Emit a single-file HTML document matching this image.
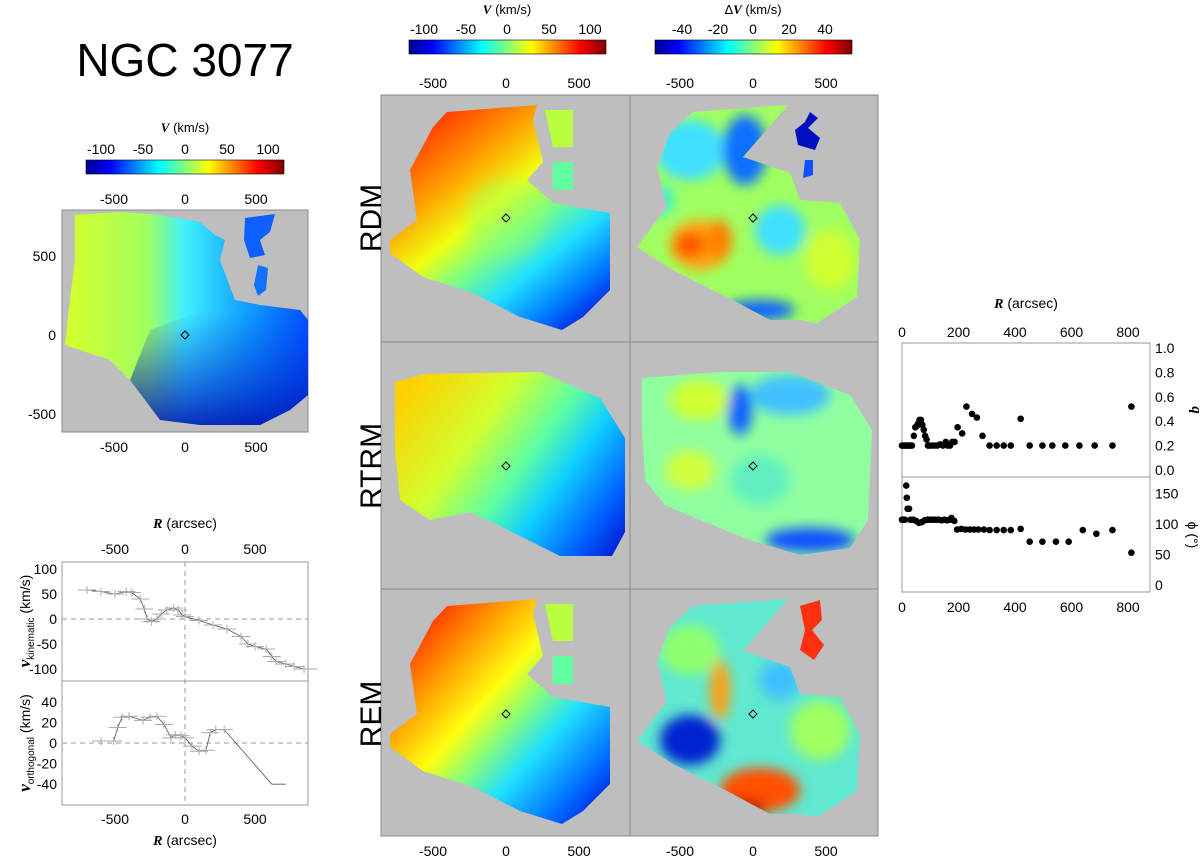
<!DOCTYPE html>
<html><head><meta charset="utf-8"><style>
body{margin:0;background:#fff;}
svg{display:block;font-family:"Liberation Sans",sans-serif;}
</style></head><body>
<svg id="fig" width="1200" height="863" viewBox="0 0 1200 863">
<defs>
<linearGradient id="jet" x1="0" x2="1" y1="0" y2="0">
<stop offset="0" stop-color="#00008f"/><stop offset="0.12" stop-color="#0000ff"/><stop offset="0.37" stop-color="#00ffff"/><stop offset="0.62" stop-color="#ffff00"/><stop offset="0.87" stop-color="#ff0000"/><stop offset="1" stop-color="#800000"/>
</linearGradient>
<linearGradient id="gObs" x1="62" x2="308" y1="0" y2="0" gradientUnits="userSpaceOnUse">
<stop offset="0" stop-color="#d8ff28"/><stop offset="0.35" stop-color="#a0ff60"/><stop offset="0.5" stop-color="#40f0ff"/><stop offset="0.75" stop-color="#10a0ff"/><stop offset="1" stop-color="#0050ff"/>
</linearGradient>
<linearGradient id="gObsB" x1="0" x2="0" y1="310" y2="430" gradientUnits="userSpaceOnUse">
<stop offset="0" stop-color="#0030e0" stop-opacity="0"/><stop offset="1" stop-color="#0010b0" stop-opacity="0.9"/>
</linearGradient>
<linearGradient id="gRDM" x1="430" y1="110" x2="600" y2="320" gradientUnits="userSpaceOnUse">
<stop offset="0" stop-color="#ff2a00"/><stop offset="0.25" stop-color="#ffa000"/><stop offset="0.42" stop-color="#f0ff10"/><stop offset="0.55" stop-color="#80ff80"/><stop offset="0.7" stop-color="#20e0ff"/><stop offset="0.85" stop-color="#0080ff"/><stop offset="1" stop-color="#0010e0"/>
</linearGradient>
<linearGradient id="gRTRM" x1="400" y1="400" x2="620" y2="560" gradientUnits="userSpaceOnUse">
<stop offset="0" stop-color="#ffd000"/><stop offset="0.3" stop-color="#d0ff30"/><stop offset="0.5" stop-color="#60ffa0"/><stop offset="0.65" stop-color="#10d0ff"/><stop offset="0.85" stop-color="#0060ff"/><stop offset="1" stop-color="#0010d0"/>
</linearGradient>
<linearGradient id="gREM" x1="420" y1="620" x2="620" y2="800" gradientUnits="userSpaceOnUse">
<stop offset="0" stop-color="#ff3000"/><stop offset="0.2" stop-color="#ffa000"/><stop offset="0.38" stop-color="#ffff10"/><stop offset="0.5" stop-color="#90ff70"/><stop offset="0.65" stop-color="#20e0ff"/><stop offset="0.85" stop-color="#0070ff"/><stop offset="1" stop-color="#0010e0"/>
</linearGradient>
<filter id="blur" x="-20%" y="-20%" width="140%" height="140%"><feGaussianBlur stdDeviation="6"/></filter>
<clipPath id="cRes1"><polygon points="693,112 788,105 743,157 790,173 800,200 840,203 860,240 857,297 817,323 800,320 770,320 727,297 673,270 637,247 667,207 657,167 670,133"/></clipPath>
<clipPath id="cRes2"><polygon points="642,378 720,372 790,372 850,395 872,430 868,520 850,548 800,555 750,540 700,520 665,505 645,480 642,430"/></clipPath>
<clipPath id="cRes3"><polygon points="693,606 788,599 743,651 790,667 800,694 840,697 860,734 857,791 817,817 800,814 770,814 727,791 673,764 637,741 667,701 657,661 670,627"/></clipPath>
</defs>

<text x="185" y="76" font-size="46" text-anchor="middle">NGC 3077</text>

<!-- left colorbar -->
<g>
<text x="185" y="132" font-size="13" text-anchor="middle"><tspan font-family="Liberation Serif" font-style="italic" font-weight="bold">V</tspan> (km/s)</text>
<rect x="86" y="160" width="198" height="14" fill="url(#jet)" stroke="#000" stroke-width="0.6"/>
<g font-size="14" text-anchor="middle"><text x="101" y="154">-100</text><text x="143" y="154">-50</text><text x="185" y="154">0</text><text x="227" y="154">50</text><text x="268" y="154">100</text></g>
</g>

<!-- top-left observed map -->
<g>
<rect x="62" y="210" width="246" height="222" fill="#bebebe" stroke="#888" stroke-width="1"/>
<polygon points="75,215 120,212 160,215 200,222 215,235 225,240 220,260 235,300 260,305 300,310 308,320 308,395 290,410 260,425 200,425 160,420 130,380 110,360 80,350 65,345 70,300 75,260" fill="url(#gObs)"/>
<polygon points="150,330 230,300 308,310 308,395 290,410 260,425 200,425 160,420 130,380" fill="url(#gObsB)"/>
<polygon points="245,218 275,214 270,232 260,240 265,255 250,258 244,240" fill="#1060ff"/>
<polygon points="258,265 268,268 266,290 258,296 254,285" fill="#1070ff"/>
<polygon points="185,331 189,335 185,339 181,335" fill="none" stroke="#000" stroke-width="1"/>
<g font-size="14" text-anchor="middle"><text x="114" y="204">-500</text><text x="185" y="204">0</text><text x="256" y="204">500</text>
<text x="114" y="452">-500</text><text x="185" y="452">0</text><text x="256" y="452">500</text></g>
<g font-size="14" text-anchor="end"><text x="56" y="261">500</text><text x="56" y="340">0</text><text x="56" y="419">-500</text></g>
</g>

<!-- middle colorbars -->
<g>
<text x="507" y="14" font-size="13" text-anchor="middle"><tspan font-family="Liberation Serif" font-style="italic" font-weight="bold">V</tspan> (km/s)</text>
<rect x="409" y="40" width="197" height="14" fill="url(#jet)" stroke="#000" stroke-width="0.6"/>
<g font-size="14" text-anchor="middle"><text x="424" y="34">-100</text><text x="466" y="34">-50</text><text x="507" y="34">0</text><text x="549" y="34">50</text><text x="590" y="34">100</text></g>
</g>
<g>
<text x="753" y="14" font-size="13" text-anchor="middle">Δ<tspan font-family="Liberation Serif" font-style="italic" font-weight="bold">V</tspan> (km/s)</text>
<rect x="655" y="40" width="197" height="14" fill="url(#jet)" stroke="#000" stroke-width="0.6"/>
<g font-size="14" text-anchor="middle"><text x="682" y="34">-40</text><text x="718" y="34">-20</text><text x="753" y="34">0</text><text x="789" y="34">20</text><text x="825" y="34">40</text></g>
</g>

<!-- model grid -->
<g>
<rect x="381" y="95" width="497" height="741" fill="#bebebe" stroke="#888" stroke-width="1"/>
<line x1="630" y1="95" x2="630" y2="836" stroke="#888"/>
<line x1="381" y1="342" x2="878" y2="342" stroke="#888"/>
<line x1="381" y1="589" x2="878" y2="589" stroke="#888"/>
<g font-size="14" text-anchor="middle"><text x="433" y="88">-500</text><text x="506" y="88">0</text><text x="579" y="88">500</text><text x="680" y="88">-500</text><text x="753" y="88">0</text><text x="826" y="88">500</text>
<text x="433" y="856">-500</text><text x="506" y="856">0</text><text x="579" y="856">500</text><text x="680" y="856">-500</text><text x="753" y="856">0</text><text x="826" y="856">500</text></g>
<g font-size="30" text-anchor="middle"><text transform="translate(381,218) rotate(-90)">RDM</text><text transform="translate(381,466) rotate(-90)">RTRM</text><text transform="translate(381,714) rotate(-90)">REM</text></g>
</g>

<g>
<polygon points="447,112 537,105 533,120 543,162 527,180 553,203 610,213 610,290 583,317 562,330 520,317 473,293 423,277 390,253 390,240 417,220 410,170 433,127" fill="url(#gRDM)"/>
<circle cx="506" cy="218" r="40" fill="#90ff70" opacity="0.35" filter="url(#blur)"/>
<polygon points="545,110 573,110 573,147 553,147" fill="#b8ff40"/>
<polygon points="553,162 573,162 573,190 553,190" fill="#60ffa0"/>
</g>
<g>
<g clip-path="url(#cRes1)"><rect x="630" y="95" width="248" height="247" fill="#a0ff60"/>
<g filter="url(#blur)"><ellipse cx="690" cy="150" rx="35" ry="30" fill="#40e0ff"/><ellipse cx="745" cy="150" rx="22" ry="35" fill="#1070ff"/><ellipse cx="700" cy="245" rx="30" ry="25" fill="#ffa010"/><ellipse cx="690" cy="245" rx="15" ry="12" fill="#ff5000"/><ellipse cx="720" cy="240" rx="12" ry="20" fill="#ff8000"/><ellipse cx="760" cy="310" rx="35" ry="10" fill="#1060ff"/><ellipse cx="780" cy="230" rx="25" ry="25" fill="#40e0ff"/><ellipse cx="830" cy="260" rx="25" ry="30" fill="#d0ff30"/><ellipse cx="660" cy="200" rx="15" ry="15" fill="#40f0d0"/></g></g>
<polygon points="810,112 818,118 808,128 820,138 815,150 798,145 795,130 805,122" fill="#0010c0"/>
<polygon points="805,160 813,160 813,175 803,178" fill="#1050ff"/>
</g>

<g>
<polygon points="395,382 425,374 540,372 600,398 625,438 625,532 612,556 560,556 500,526 470,512 430,520 400,500 395,450" fill="url(#gRTRM)"/>
</g>
<g>
<g clip-path="url(#cRes2)"><rect x="630" y="342" width="248" height="247" fill="#90ffa0"/>
<g filter="url(#blur)"><ellipse cx="700" cy="400" rx="30" ry="20" fill="#d0ff30"/><ellipse cx="740" cy="410" rx="12" ry="25" fill="#1060ff"/><ellipse cx="790" cy="395" rx="40" ry="20" fill="#40c0ff"/><ellipse cx="810" cy="540" rx="45" ry="12" fill="#1050ff"/><ellipse cx="690" cy="470" rx="25" ry="20" fill="#d0ff40"/><ellipse cx="760" cy="480" rx="30" ry="25" fill="#60f0c0"/></g></g>
</g>

<g>
<polygon points="447,606 537,599 533,614 543,656 527,674 553,697 610,707 610,784 583,811 562,824 520,811 473,787 423,771 390,747 390,734 417,714 410,664 433,621" fill="url(#gREM)"/>
<polygon points="545,604 573,604 573,641 553,641" fill="#b8ff40"/>
<polygon points="553,656 573,656 573,684 553,684" fill="#60ffa0"/>
</g>
<g>
<g clip-path="url(#cRes3)"><rect x="630" y="589" width="248" height="247" fill="#60e8d0"/>
<g filter="url(#blur)"><ellipse cx="690" cy="650" rx="30" ry="25" fill="#90ff70"/><ellipse cx="720" cy="690" rx="10" ry="30" fill="#ffa010"/><ellipse cx="690" cy="740" rx="30" ry="25" fill="#0020d0"/><ellipse cx="760" cy="790" rx="40" ry="22" fill="#ff5000"/><ellipse cx="745" cy="810" rx="20" ry="10" fill="#b00000"/><ellipse cx="820" cy="730" rx="30" ry="30" fill="#a0ff60"/><ellipse cx="780" cy="680" rx="20" ry="20" fill="#40c0ff"/></g></g>
<polygon points="800,606 820,600 822,620 812,630 824,645 814,660 800,650 805,630" fill="#ff3010"/>
</g>
<g fill="none" stroke="#000">
<polygon points="506,214 510,218 506,222 502,218"/><polygon points="753,214 757,218 753,222 749,218"/>
<polygon points="506,462 510,466 506,470 502,466"/><polygon points="753,462 757,466 753,470 749,466"/>
<polygon points="506,710 510,714 506,718 502,714"/><polygon points="753,710 757,714 753,718 749,714"/>
</g>

<!-- bottom-left profile -->
<g>
<rect x="62" y="562" width="246" height="243" fill="none" stroke="#999"/>
<line x1="62" y1="681" x2="308" y2="681" stroke="#999"/>
<text x="185" y="528" font-size="14" text-anchor="middle"><tspan font-family="Liberation Serif" font-style="italic" font-weight="bold">R</tspan> (arcsec)</text>
<text x="185" y="845" font-size="14" text-anchor="middle"><tspan font-family="Liberation Serif" font-style="italic" font-weight="bold">R</tspan> (arcsec)</text>
<text transform="translate(30,621) rotate(-90)" font-size="14" text-anchor="middle"><tspan font-family="Liberation Serif" font-style="italic" font-weight="bold" font-size="17">v</tspan><tspan font-size="10" dy="4">kinematic</tspan><tspan dy="-4"> (km/s)</tspan></text>
<text transform="translate(30,743) rotate(-90)" font-size="14" text-anchor="middle"><tspan font-family="Liberation Serif" font-style="italic" font-weight="bold" font-size="17">v</tspan><tspan font-size="10" dy="4">orthogonal</tspan><tspan dy="-4"> (km/s)</tspan></text>
<g id="prof"></g>
</g>

<!-- right q/phi panel -->
<g>
<rect x="902" y="343" width="248" height="249" fill="none" stroke="#999"/>
<line x1="902" y1="477" x2="1150" y2="477" stroke="#999"/>
<text x="1026" y="308" font-size="14" text-anchor="middle"><tspan font-family="Liberation Serif" font-style="italic" font-weight="bold">R</tspan> (arcsec)</text>
<text transform="translate(1192,410) rotate(90)" font-family="Liberation Serif" font-style="italic" font-weight="bold" font-size="15" text-anchor="middle">q</text>
<text transform="translate(1188,535) rotate(90)" font-size="14" text-anchor="middle">ϕ (°)</text>
<g id="qp"></g>
</g>
</svg>
<script>
const vkR=[-700,-600,-500,-420,-380,-320,-290,-270,-240,-200,-170,-130,-80,-50,-20,0,100,200,300,400,450,500,580,620,650,720,780,850,880];
const vkV=[58,55,50,55,53,40,20,0,-5,0,10,18,22,18,8,5,-3,-12,-20,-35,-50,-55,-60,-75,-85,-90,-95,-100,-100];
const voR=[-600,-510,-480,-450,-400,-300,-250,-200,-150,-100,-70,-30,0,50,100,150,180,220,280,620,720];
const voV=[2,2,15,25,26,22,25,26,18,5,8,7,5,-3,-8,-7,10,13,13,-40,-40];
const profTicksX=[-500,0,500];
const vkTicks=[100,50,0,-50,-100];
const voTicks=[40,20,0,-20,-40];
const qR=[0,5,10,15,20,25,30,35,42,47,52,57,62,67,72,77,82,87,92,97,105,115,125,135,145,155,162,170,178,186,197,213,228,248,265,285,310,335,360,385,420,452,497,532,578,628,682,745,812];
const qV=[0.2,0.2,0.2,0.2,0.2,0.2,0.2,0.2,0.28,0.35,0.36,0.38,0.41,0.41,0.37,0.33,0.28,0.25,0.2,0.2,0.2,0.2,0.2,0.21,0.2,0.23,0.2,0.2,0.23,0.23,0.35,0.3,0.52,0.46,0.43,0.28,0.2,0.2,0.2,0.2,0.42,0.2,0.2,0.2,0.2,0.2,0.2,0.2,0.52];
const pR=[0,5,10,15,17,20,25,30,40,50,60,70,80,90,100,110,120,130,140,150,160,170,175,185,195,210,225,240,255,270,290,310,335,360,385,420,452,497,545,590,640,688,745,812];
const pV=[107,107,107,163,143,125,125,107,107,105,102,103,106,107,107,107,107,107,106,107,106,107,110,105,91,92,91,91,91,91,91,90,90,90,90,92,71,71,71,71,90,84,90,53];
const qTicks=[0,0.2,0.4,0.6,0.8,1.0];
const pTicks=[0,50,100,150];
const rTicks=[0,200,400,600,800];
const NS='http://www.w3.org/2000/svg';
function mk(tag,attrs,parent){const e=document.createElementNS(NS,tag);for(const k in attrs)e.setAttribute(k,attrs[k]);parent.appendChild(e);return e;}
const px=r=>185+r*0.14;
const pyK=v=>619-v*0.5;
const pyO=v=>743-v*1.03;
const prof=document.getElementById('prof');
mk('line',{x1:185,y1:562,x2:185,y2:805,stroke:'#999','stroke-dasharray':'5,4'},prof);
mk('line',{x1:62,y1:pyK(0),x2:308,y2:pyK(0),stroke:'#999','stroke-dasharray':'5,4'},prof);
mk('line',{x1:62,y1:pyO(0),x2:308,y2:pyO(0),stroke:'#999','stroke-dasharray':'5,4'},prof);
profTicksX.forEach(t=>{
 const a=mk('text',{x:px(t),y:554,'font-size':14,'text-anchor':'middle'},prof);a.textContent=t;
 
 
 const b=mk('text',{x:px(t),y:824,'font-size':14,'text-anchor':'middle'},prof);b.textContent=t;
 
 
});
vkTicks.forEach(t=>{const a=mk('text',{x:57,y:pyK(t)+5,'font-size':14,'text-anchor':'end'},prof);a.textContent=t;
 
 });
voTicks.forEach(t=>{const a=mk('text',{x:57,y:pyO(t)+5,'font-size':14,'text-anchor':'end'},prof);a.textContent=t;
 
 });
function series(R,V,fy,name){
 const pl=mk('polyline',{points:R.map((r,i)=>px(r)+','+fy(V[i])).join(' '),fill:'none',stroke:'#555','stroke-width':0.8},prof);
 
 
 R.forEach((r,i)=>{if(i>=R.length-2&&name==='vorth')return;
  const e=mk('line',{x1:px(r)-9,x2:px(r)+9,y1:fy(V[i]),y2:fy(V[i]),stroke:'#aaa','stroke-width':1},prof);
  
  
  const f=mk('line',{x1:px(r),x2:px(r),y1:fy(V[i])-4,y2:fy(V[i])+4,stroke:'#aaa','stroke-width':1},prof);
  
  
 });
}
series(vkR,vkV,pyK,'vkin');
series(voR,voV,pyO,'vorth');
const qx=r=>902+r*0.2825;
const qy=v=>470-v*122;
const py=v=>585-v*0.61;
const qp=document.getElementById('qp');
rTicks.forEach(t=>{
 const a=mk('text',{x:qx(t),y:337,'font-size':14,'text-anchor':'middle'},qp);a.textContent=t;
 
 
 const b=mk('text',{x:qx(t),y:612,'font-size':14,'text-anchor':'middle'},qp);b.textContent=t;
 
 
});
qTicks.forEach(t=>{const a=mk('text',{x:1155,y:qy(t)+5,'font-size':14},qp);a.textContent=t.toFixed(1);
 
 });
pTicks.forEach(t=>{const a=mk('text',{x:1155,y:py(t)+5,'font-size':14},qp);a.textContent=t;
 
 });
qR.forEach((r,i)=>{const c=mk('circle',{cx:qx(r),cy:qy(qV[i]),r:3.3,fill:'#000'},qp);
 
 });
pR.forEach((r,i)=>{const c=mk('circle',{cx:qx(r),cy:py(pV[i]),r:3.3,fill:'#000'},qp);
 
 });
</script>
</body></html>
